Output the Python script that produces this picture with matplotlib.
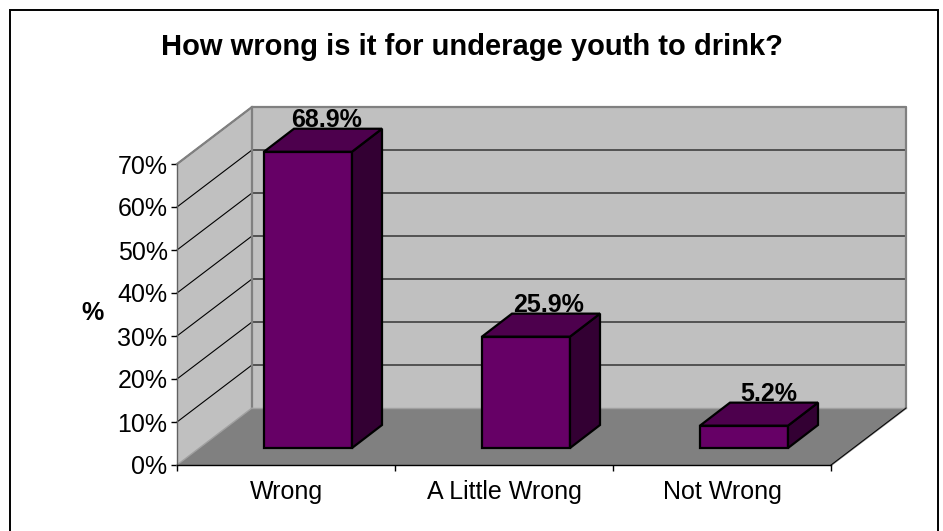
import matplotlib
matplotlib.use('Agg')
import matplotlib.pyplot as plt
from matplotlib.patches import Polygon, Rectangle

plt.rcParams['font.family'] = ['Liberation Sans', 'DejaVu Sans']

# data
categories = ['Wrong', 'A Little Wrong', 'Not Wrong']
values = [68.9, 25.9, 5.2]
value_labels = ['68.9%', '25.9%', '5.2%']
y_ticks = [0, 10, 20, 30, 40, 50, 60, 70]
title = 'How wrong is it for underage youth to drink?'

W, H = 943, 531
fig = plt.figure(figsize=(W/100, H/100), dpi=100)

# frame around the chart, the bottom edge runs off the picture
fig.add_artist(Rectangle((9.5/W, -10/H), (938-9.5)/W, (H+10-9.5)/H, transform=fig.transFigure,
                         fc='white', ec='black', lw=1.4, zorder=-1))

# front plane of the 3d box, in pixels
left, right, top, bottom = 177, 831, 164, 465
ax = fig.add_axes([left/W, 1-bottom/H, (right-left)/W, (bottom-top)/H])
ax.set_xlim(0, 3)
ax.set_ylim(0, 70)
ax.patch.set_visible(False)

# depth of the box and of the bars, in data units
box_dx = 75/(right-left)*3
box_dy = 57/(bottom-top)*70
bar_dx = 30/(right-left)*3
bar_dy = 23/(bottom-top)*70
bar_w = 88/(right-left)*3
bar_x0 = 87/(right-left)*3
bar_y0 = 17/(bottom-top)*70


def poly(pts, fc, ec, lw, z):
    ax.add_patch(Polygon(pts, closed=True, fc=fc, ec=ec, lw=lw, zorder=z, clip_on=False, joinstyle='miter'))


ymax = y_ticks[-1]
# walls and floor
poly([(box_dx, box_dy), (3+box_dx, box_dy), (3+box_dx, ymax+box_dy), (box_dx, ymax+box_dy)], '#c0c0c0', 'none', 0, 1)
poly([(0, 0), (box_dx, box_dy), (box_dx, ymax+box_dy), (0, ymax)], '#c0c0c0', 'none', 0, 1)
poly([(0, 0), (3, 0), (3+box_dx, box_dy), (box_dx, box_dy)], '#808080', 'none', 0, 2)

# gridlines on the walls
for t in y_ticks[1:]:
    ax.plot([0, box_dx, 3+box_dx], [t, t+box_dy, t+box_dy], color='black', lw=0.8, zorder=2, clip_on=False)

# grey wall edges
ax.plot([0, box_dx, 3+box_dx, 3+box_dx, 3], [ymax, ymax+box_dy, ymax+box_dy, box_dy, 0],
        color='#808080', lw=1.6, zorder=3, clip_on=False)
ax.plot([box_dx, box_dx], [box_dy, ymax+box_dy], color='#808080', lw=1.6, zorder=3, clip_on=False)
ax.plot([box_dx, 3+box_dx], [box_dy, box_dy], color='#a0a0a0', lw=1.0, zorder=3, clip_on=False)
ax.plot([0, box_dx], [0, box_dy], color='#a0a0a0', lw=1.0, zorder=3, clip_on=False)
ax.plot([3, 3+box_dx], [0, box_dy], color='black', lw=0.7, zorder=3, clip_on=False)

# bars
label_shift = [18.5, 22.5, 24.7]  # px right of the bar centre
for i, v in enumerate(values):
    x0 = i + bar_x0
    x1 = x0 + bar_w
    y0 = bar_y0
    y1 = y0 + v
    poly([(x0, y0), (x1, y0), (x1, y1), (x0, y1)], '#660066', 'black', 1.6, 5)
    poly([(x1, y0), (x1+bar_dx, y0+bar_dy), (x1+bar_dx, y1+bar_dy), (x1, y1)], '#330033', 'black', 1.6, 5)
    poly([(x0, y1), (x1, y1), (x1+bar_dx, y1+bar_dy), (x0+bar_dx, y1+bar_dy)], '#4d004d', 'black', 1.6, 5)
    ax.text(x0+bar_w/2+label_shift[i]/(right-left)*3, y1+bar_dy+0.3, value_labels[i], ha='center', va='baseline',
            fontsize=18, fontweight='bold', zorder=4 if i == 0 else 6)

# axes
for s in ['top', 'right']:
    ax.spines[s].set_visible(False)
for s in ['left', 'bottom']:
    ax.spines[s].set_zorder(4)
    ax.spines[s].set_linewidth(1.0)
ax.spines['left'].set_color('#606060')
ax.set_yticks(y_ticks)
ax.set_yticklabels([f'{t}%' for t in y_ticks], fontsize=18)
ax.set_xticks([0, 1, 2, 3])
ax.set_xticklabels([])
ax.set_xticks([0.5, 1.5, 2.5], categories, minor=True, fontsize=18)
ax.tick_params(axis='x', which='minor', length=0, pad=24.5)
for lab in ax.get_xticklabels(minor=True):
    lab.set_verticalalignment('baseline')
ax.tick_params(axis='both', which='major', length=4.3, width=1.0)
ax.tick_params(axis='y', which='major', pad=2.5)
ax.set_ylabel('%', fontsize=18, fontweight='bold', rotation=0, va='center', ha='center')
ax.yaxis.set_label_coords((93-left)/(right-left), (bottom-313)/(bottom-top))

fig.text(471.5/W, 1-55/H, title, ha='center', va='baseline', fontsize=21, fontweight='bold')

fig.savefig('out.png', dpi=100)
